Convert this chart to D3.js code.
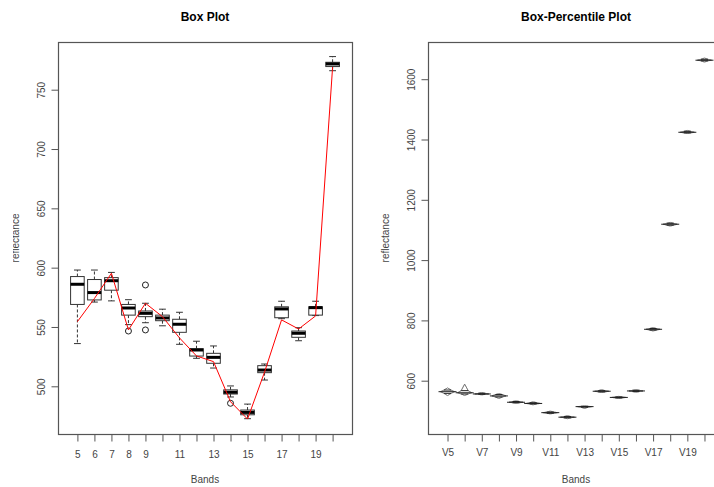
<!DOCTYPE html>
<html>
<head>
<meta charset="utf-8">
<script src="https://cdn.jsdelivr.net/npm/d3@7"></script>
<style>
  body { margin: 0; background: #fff; }
  svg { display: block; font-family: "Liberation Sans", Arial, sans-serif; }
</style>
</head>
<body>
<svg id="chart" width="714" height="487"></svg>
<script>
// ---- left panel: box plot of bands 5..20
var boxCats = ["5","6","7","8","9","10","11","12","13","14","15","16","17","18","19","20"];
var boxTickLabels = ["5","6","7","8","9","","11","","13","","15","","17","","19",""];
var boxMin = [536, 571, 572, 552, 553.6, 551, 535.4, 523.6, 515.4, 491, 472.7, 505.3, 557, 538.4, 559.6, 766];
var boxQ1  = [569, 572.8, 581, 560, 558.7, 555.3, 545.5, 525.5, 519.4, 493.5, 476, 511.5, 557.8, 541.3, 560, 769.5];
var boxMed = [586, 579, 589, 566, 561.5, 557.6, 552.3, 530.6, 524.4, 495, 478, 513.7, 565.2, 544.7, 566.3, 771.7];
var boxQ3  = [592.5, 590, 591.6, 569, 563.5, 560, 556.5, 531.7, 527.8, 497, 480, 517.4, 567, 546.6, 567, 773.1];
var boxMax = [598, 598, 596, 573, 570, 565, 562.4, 538, 534, 500.3, 485, 518.8, 571.7, 549.4, 571.7, 777.9];
var boxOutliers = [[], [], [], [546.6], [585.4, 547.5], [], [], [], [], [485.7], [], [], [], [], [], []];
var redLine = [554.5, 574, 595.3, 547.5, 570, 558.7, 540.8, 525.6, 520.8, 487, 472.4, 512, 556, 548.3, 559.3, 769];
var boxYTicks = [500, 550, 600, 650, 700, 750];

// ---- right panel: box-percentile plot V5..V20
var bpCats = ["V5","V6","V7","V8","V9","V10","V11","V12","V13","V14","V15","V16","V17","V18","V19","V20"];
var bpTickLabels = ["V5","","V7","","V9","","V11","","V13","","V15","","V17","","V19",""];
var bpMin = [551, 551, 553, 541, 525, 520, 490, 474, 508, 561, 541, 562, 765, 1113, 1420, 1657];
var bpQ1  = [558, 556, 555, 546, 527, 523, 492, 477, 512, 563, 543, 564, 768, 1116, 1422, 1661];
var bpMed = [563.5, 560, 556, 549.5, 528.5, 524.5, 494, 479, 514, 565, 544.5, 566, 770.5, 1119, 1424, 1663];
var bpQ3  = [569, 567, 558, 554, 531, 527, 496, 481, 515, 567, 546, 568, 773, 1122, 1427, 1666];
var bpMax = [576, 588, 561, 557, 533, 530, 499, 484, 516, 570, 548, 570, 776, 1125, 1430, 1670];
var bpYTicks = [600, 800, 1000, 1200, 1400, 1600];

var svg = d3.select("#chart");
var textCol = "#444";
var lineCol = "#555";

// R pads the x range by 4%: 0.5..16.5 becomes -0.14..17.14
var xDomain = [0.5 - 0.64, boxCats.length + 0.5 + 0.64];

var drawFrame = function(opts){
  var g = svg.append("g");
  var x = opts.x, y = opts.y;
  var left = x.range()[0], right = x.range()[1];
  var top = y.range()[1], bottom = y.range()[0];

  g.append("rect")
    .attr("x", left + 0.5).attr("y", top + 0.5)
    .attr("width", right - left).attr("height", bottom - top)
    .attr("fill", "none").attr("stroke", lineCol).attr("stroke-width", 1.2);

  // x axis
  var xa = g.append("g")
    .attr("transform", "translate(0," + (bottom + 0.5) + ")")
    .call(d3.axisBottom(x)
      .tickValues(d3.range(1, opts.cats.length + 1))
      .tickFormat(function(d){ return opts.tickLabels[d - 1]; })
      .tickSize(7).tickSizeOuter(0).tickPadding(opts.xPad));
  xa.select(".domain").remove();
  xa.selectAll("line").attr("stroke", lineCol);
  xa.selectAll("text").attr("fill", textCol).attr("font-size", 10)
    .attr("font-family", "Liberation Sans, Arial, sans-serif");

  // y axis, labels parallel to the axis
  var ya = g.append("g")
    .attr("transform", "translate(" + (left + 0.5) + ",0)")
    .call(d3.axisLeft(y).tickValues(opts.yTicks).tickFormat(d3.format("d"))
      .tickSize(7).tickSizeOuter(0));
  ya.select(".domain").remove();
  ya.selectAll("line").attr("stroke", lineCol);
  ya.selectAll("text")
    .attr("transform", "rotate(-90)")
    .attr("x", 0).attr("y", -14).attr("dy", 0)
    .attr("text-anchor", "middle")
    .attr("fill", textCol).attr("font-size", 10)
    .attr("font-family", "Liberation Sans, Arial, sans-serif");

  // titles
  svg.append("text")
    .attr("x", (left + right) / 2).attr("y", 21)
    .attr("text-anchor", "middle").attr("font-weight", "bold")
    .attr("font-size", 12).attr("fill", "#000")
    .text(opts.title);
  svg.append("text")
    .attr("x", (left + right) / 2).attr("y", 483)
    .attr("text-anchor", "middle").attr("font-size", 10).attr("fill", textCol)
    .text("Bands");
  svg.append("text")
    .attr("transform", "translate(" + (left - 39) + "," + ((top + bottom) / 2) + ") rotate(-90)")
    .attr("text-anchor", "middle").attr("font-size", 10).attr("fill", textCol)
    .text("reflectance");
  return g;
};

// ---------- Box Plot ----------
var x1 = d3.scaleLinear().domain(xDomain).range([58, 352]);
var y1 = d3.scaleLinear().domain([459.8, 790.2]).range([434, 42]);
drawFrame({ x: x1, y: y1, cats: boxCats, tickLabels: boxTickLabels, yTicks: boxYTicks,
            title: "Box Plot", xPad: 9 });

var boxW = (x1(2) - x1(1)) * 0.8;
var stapleW = boxW * 0.5;
var bg = svg.append("g");
var boxes = bg.selectAll("g.box").data(boxCats).enter().append("g").attr("class", "box");

boxes.each(function(c, i){
  var g = d3.select(this);
  var cx = x1(i + 1);
  // whiskers
  g.append("line").attr("x1", cx).attr("x2", cx)
    .attr("y1", y1(boxQ3[i])).attr("y2", y1(boxMax[i]))
    .attr("stroke", "#333").attr("stroke-dasharray", "3,2");
  g.append("line").attr("x1", cx).attr("x2", cx)
    .attr("y1", y1(boxQ1[i])).attr("y2", y1(boxMin[i]))
    .attr("stroke", "#333").attr("stroke-dasharray", "3,2");
  [boxMin[i], boxMax[i]].forEach(function(v){
    g.append("line").attr("x1", cx - stapleW / 2).attr("x2", cx + stapleW / 2)
      .attr("y1", y1(v)).attr("y2", y1(v)).attr("stroke", "#333");
  });
  g.append("rect")
    .attr("x", cx - boxW / 2).attr("y", y1(boxQ3[i]))
    .attr("width", boxW).attr("height", y1(boxQ1[i]) - y1(boxQ3[i]))
    .attr("fill", "#fff").attr("stroke", "#333");
  g.append("line").attr("x1", cx - boxW / 2).attr("x2", cx + boxW / 2)
    .attr("y1", y1(boxMed[i])).attr("y2", y1(boxMed[i]))
    .attr("stroke", "#000").attr("stroke-width", 3);
  g.selectAll("circle").data(boxOutliers[i]).enter().append("circle")
    .attr("cx", cx).attr("cy", function(d){ return y1(d); })
    .attr("r", 3).attr("fill", "none").attr("stroke", "#222");
});

var line = d3.line()
  .x(function(d, i){ return x1(i + 1); })
  .y(function(d){ return y1(d); });
svg.append("path").datum(redLine)
  .attr("d", line).attr("fill", "none").attr("stroke", "#f00").attr("stroke-width", 1);

// left y label is cut at the picture's edge
svg.append("rect").attr("x", 0).attr("y", 180).attr("width", 13).attr("height", 120).attr("fill", "#fff");

// ---------- Box-Percentile Plot ----------
var x2 = d3.scaleLinear().domain(xDomain).range([428, 724]);
var y2 = d3.scaleLinear().domain([423.2, 1723.4]).range([434, 42]);
drawFrame({ x: x2, y: y2, cats: bpCats, tickLabels: bpTickLabels, yTicks: bpYTicks,
            title: "Box-Percentile Plot", xPad: 7 });

var halfMax = 7;
var probs = d3.range(1, 100).map(function(p){ return p / 100; });
var pg = svg.append("g");
bpCats.forEach(function(c, i){
  var cx = x2(i + 1);
  var q = d3.scaleLinear().domain([0.01, 0.25, 0.5, 0.75, 0.99])
    .range([bpMin[i], bpQ1[i], bpMed[i], bpQ3[i], bpMax[i]]);
  var w = function(p){ return Math.min(p, 1 - p) / 0.5 * halfMax; };
  var side = function(sign){
    return d3.line()
      .x(function(p){ return cx + sign * w(p); })
      .y(function(p){ return y2(q(p)); })(probs);
  };
  pg.append("path").attr("d", side(-1)).attr("fill", "none").attr("stroke", "#333").attr("stroke-width", 0.9);
  pg.append("path").attr("d", side(1)).attr("fill", "none").attr("stroke", "#333").attr("stroke-width", 0.9);
  [0.25, 0.5, 0.75].forEach(function(p){
    var ext = p === 0.5 ? halfMax + 2 : w(p);
    pg.append("line")
      .attr("x1", cx - ext).attr("x2", cx + ext)
      .attr("y1", y2(q(p))).attr("y2", y2(q(p)))
      .attr("stroke", "#222").attr("stroke-width", 1);
  });
});
</script>
</body>
</html>
